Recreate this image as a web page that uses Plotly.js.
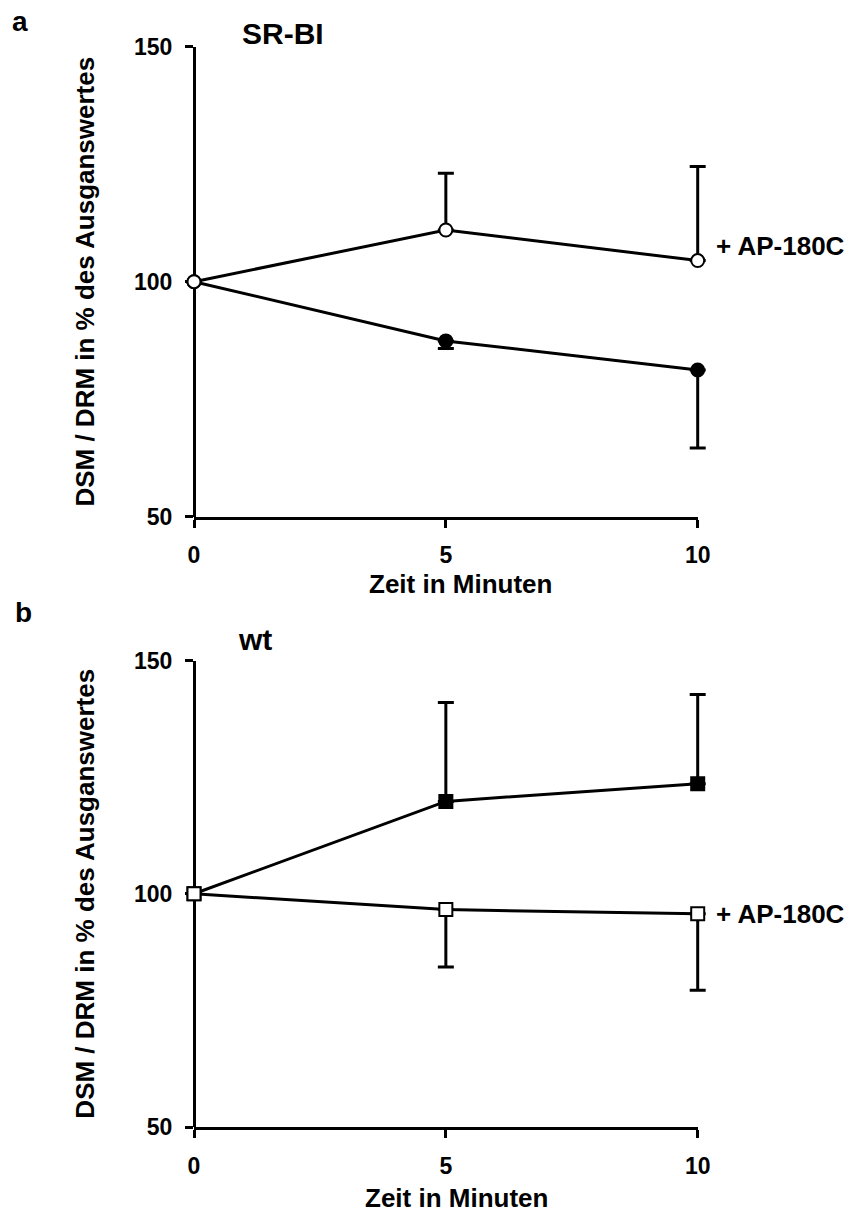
<!DOCTYPE html>
<html>
<head>
<meta charset="utf-8">
<script src="https://cdn.plot.ly/plotly-3.0.1.min.js"></script>
<style>html,body{margin:0;padding:0;background:#fff;}#chart{width:848px;height:1212px;}</style>
</head>
<body>
<div id="chart"></div>
<script>
// ---- data ----
var minutes = [0, 5, 10];
var xTickLabels = ['0', '5', '10'];
var yTickVals = [50, 100, 150];

// panel a: SR-BI
var srbiCtrl = [100, 87.4, 81.2];
var srbiCtrlErrDown = [0, 1.6, 16.6];
var srbiAP = [100, 111.0, 104.5];
var srbiAPErrUp = [0, 12.1, 20.0];

// panel b: wt
var wtCtrl = [100, 119.8, 123.6];
var wtCtrlErrUp = [0, 21.2, 19.1];
var wtAP = [100, 96.6, 95.7];
var wtAPErrDown = [0, 12.3, 16.4];

var zeros = [0, 0, 0];
var FONT = 'Liberation Sans, Arial, Helvetica, sans-serif';
var W = 848, H = 1212;

// plot geometry (px)
var X0 = 194, X1 = 697.7;       // x = 0 and x = 10
var PAD = 24;                   // extra room so end error bars are not clipped
var pxPerUnit = (X1 - X0) / 10;
var padUnits = PAD / pxPerUnit;

function trace(y, up, down, symbol, filled, xa, ya) {
  return {
    x: minutes, y: y, xaxis: xa, yaxis: ya,
    type: 'scatter', mode: 'lines+markers', cliponaxis: false,
    line: {color: '#000', width: 3},
    marker: {symbol: symbol, size: 13, color: filled ? '#000' : '#fff', line: {color: '#000', width: 2}},
    error_y: {type: 'data', symmetric: false, array: up, arrayminus: down, color: '#000', thickness: 3, width: 8},
    showlegend: false, hoverinfo: 'x+y'
  };
}
// empty trace so the visible axis subplot is created
function axisHolder(xa, ya) {
  return {x: [], y: [], xaxis: xa, yaxis: ya, type: 'scatter', mode: 'markers', showlegend: false, hoverinfo: 'skip'};
}

var data = [
  axisHolder('x', 'y'),
  axisHolder('x2', 'y2'),
  trace(srbiCtrl, zeros, srbiCtrlErrDown, 'circle', true, 'x3', 'y'),
  trace(srbiAP, srbiAPErrUp, zeros, 'circle', false, 'x3', 'y'),
  trace(wtCtrl, wtCtrlErrUp, zeros, 'square', true, 'x4', 'y2'),
  trace(wtAP, zeros, wtAPErrDown, 'square', false, 'x4', 'y2')
];

// visible x axis (exactly 0..10)
function xax(anchor) {
  return {
    domain: [X0 / W, X1 / W], anchor: anchor, range: [0, 10],
    showgrid: false, zeroline: false, showline: true, linecolor: '#000', linewidth: 3,
    ticks: 'outside', ticklen: 8, tickwidth: 3, tickcolor: '#000',
    tickvals: minutes, ticktext: xTickLabels, ticklabelstandoff: 8,
    tickfont: {family: FONT, size: 23, color: '#000', weight: 'bold'},
    layer: 'below traces'
  };
}
// hidden data x axis (same scale, wider plot area)
function xdata(anchor) {
  return {
    domain: [(X0 - PAD) / W, (X1 + PAD) / W], anchor: anchor,
    range: [-padUnits, 10 + padUnits], visible: false, showgrid: false, zeroline: false
  };
}
function yax(dom) {
  return {
    domain: dom, anchor: 'free', position: X0 / W, range: [50, 150],
    showgrid: false, zeroline: false, showline: true, linecolor: '#000', linewidth: 3,
    ticks: 'outside', ticklen: 8, tickwidth: 3, tickcolor: '#000',
    tickvals: yTickVals, ticklabelstandoff: 8,
    tickfont: {family: FONT, size: 23, color: '#000', weight: 'bold'},
    layer: 'below traces',
    title: {text: 'DSM / DRM in % des Ausganswertes', standoff: 30, font: {family: FONT, size: 26, color: '#000', weight: 'bold'}}
  };
}

function ann(text, xpx, ypx, size, xanchor) {
  return {
    text: text, xref: 'paper', yref: 'paper', x: xpx / W, y: 1 - ypx / H,
    xanchor: xanchor, yanchor: 'middle', showarrow: false,
    font: {family: FONT, size: size, color: '#000', weight: 'bold'}
  };
}

var layout = {
  width: W, height: H,
  margin: {l: 0, r: 0, t: 0, b: 0},
  paper_bgcolor: '#fff', plot_bgcolor: 'rgba(0,0,0,0)',
  xaxis: xax('y'),
  xaxis3: xdata('y'),
  yaxis: yax([1 - 516.7 / H, 1 - 46.7 / H]),
  xaxis2: xax('y2'),
  xaxis4: xdata('y2'),
  yaxis2: yax([1 - 1127 / H, 1 - 660.5 / H]),
  annotations: [
    ann('a', 19.5, 21.5, 28, 'center'),
    ann('SR-BI', 283, 33, 30, 'center'),
    ann('+ AP-180C', 714, 245.5, 26, 'left'),
    ann('Zeit in Minuten', 460, 584, 26, 'center'),
    ann('b', 23, 612, 28, 'center'),
    ann('wt', 255, 640, 30, 'center'),
    ann('+ AP-180C', 714, 914, 26, 'left'),
    ann('Zeit in Minuten', 456, 1198, 26, 'center')
  ]
};

Plotly.newPlot('chart', data, layout, {staticPlot: true});
</script>
</body>
</html>
